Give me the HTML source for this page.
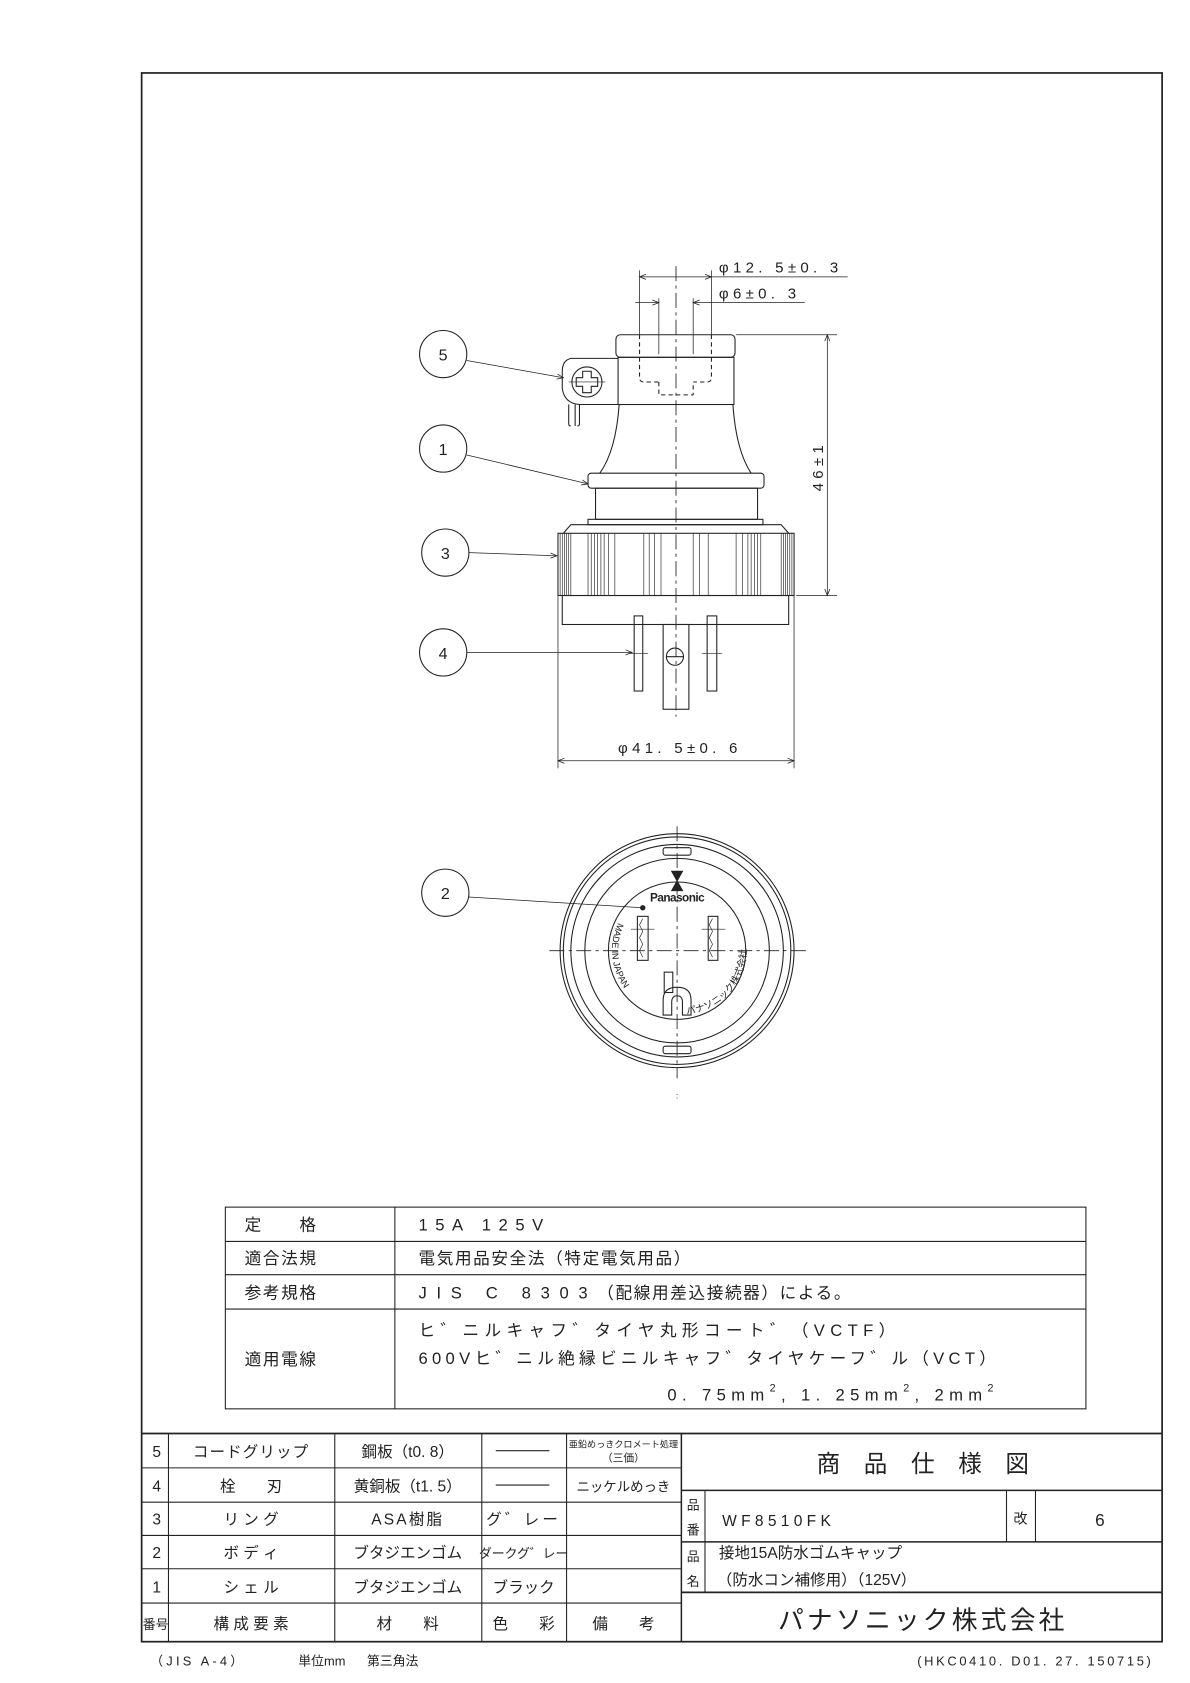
<!DOCTYPE html>
<html><head><meta charset="utf-8"><style>
html,body{margin:0;padding:0;background:#fff;}
svg{display:block;}
text{font-family:"Liberation Sans","Noto Sans CJK JP",sans-serif;fill:#222;}
</style></head><body>
<svg width="1190" height="1683" viewBox="0 0 1109 1568.5" preserveAspectRatio="none" xmlns="http://www.w3.org/2000/svg">
<defs>
<marker id="ar" viewBox="0 0 10 10" refX="10" refY="5" markerWidth="9" markerHeight="6" orient="auto-start-reverse" markerUnits="userSpaceOnUse"><path d="M0,1 L10,5 L0,9" fill="none" stroke="#222" stroke-width="1.2"/></marker>
<path id="arcL" d="M 576 860 A 60 60 0 0 0 610 942"/>
<path id="arcR" d="M 640 945 A 60 60 0 0 0 688 856"/>
</defs>
<g fill="none" stroke="#222" stroke-width="1">
<rect x="132" y="68" width="951" height="1462" stroke-width="1.6"/>

<line x1="630" y1="248" x2="630" y2="668" stroke-dasharray="14,4,3,4" stroke-width="0.8"/>
<rect x="574" y="312" width="111" height="21" rx="4"/>
<rect x="576" y="333" width="108" height="44"/>
<path d="M576 334 L532 334 Q524 336 524 346 L524 362 Q526 376 540 377 L576 377"/>
<circle cx="547" cy="356" r="14"/>
<path d="M543 346 h8 v6 h6 v8 h-6 v6 h-8 v-6 h-6 v-8 h6 z"/>
<line x1="530" y1="356" x2="564" y2="356" stroke-width="0.6"/>
<path d="M530 377 v18 q0 2 2 2 M536 377 v20 M540 377 v18 q0 2 -2 2"/>
<path d="M596 312 v40 q0 4 4 4 h14 M663 312 v40 q0 4 -4 4 h-13 M614 356 v12 h32 v-12" stroke-dasharray="4,3"/>
<path d="M577 377 Q574 420 559 441 M683 377 Q686 420 700 441"/>
<rect x="548" y="441" width="164" height="14" rx="3"/>
<rect x="555" y="455" width="151" height="29"/>
<rect x="548" y="484" width="163" height="5"/>
<path d="M525 497 L532 489 L728 489 L735 497"/>
<rect x="520" y="497" width="220" height="58"/>
<g stroke-width="0.6">
<path d="M522 497v58M524 497v58M526 497v58M528 497v58M530 497v58M532 497v58M734 497v58M736 497v58M738 497v58M732 497v58M730 497v58M728 497v58"/>
<path d="M548 497v58M551 497v58M554 497v58M557 497v58M560 497v58M563 497v58M567 497v58M573 497v58M600 497v58M605 497v58M610 497v58M616 497v58M646 497v58M652 497v58M660 497v58M686 497v58M692 497v58M697 497v58M700 497v58M703 497v58M706 497v58M709 497v58"/>
</g>
<rect x="524" y="555" width="211" height="27"/>
<rect x="591" y="574" width="8" height="70"/>
<rect x="659" y="574" width="9" height="70"/>
<rect x="618" y="582" width="24" height="79"/>
<circle cx="629" cy="612" r="8"/>
<line x1="621" y1="612" x2="637" y2="612"/>
<line x1="586" y1="609" x2="604" y2="609" stroke-width="0.6"/>
<line x1="654" y1="609" x2="673" y2="609" stroke-width="0.6"/>
<line x1="596" y1="252" x2="596" y2="312" stroke-width="0.7"/>
<line x1="663" y1="252" x2="663" y2="312" stroke-width="0.7"/>
<line x1="614" y1="278" x2="614" y2="330" stroke-width="0.7"/>
<line x1="646" y1="278" x2="646" y2="330" stroke-width="0.7"/>
<line x1="596" y1="258" x2="663" y2="258" stroke-width="0.7" marker-start="url(#ar)" marker-end="url(#ar)"/>
<line x1="663" y1="258" x2="790" y2="258" stroke-width="0.7"/>
<line x1="592" y1="282" x2="614" y2="282" stroke-width="0.7" marker-end="url(#ar)"/>
<line x1="646" y1="282" x2="750" y2="282" stroke-width="0.7" marker-start="url(#ar)"/>
<line x1="686" y1="312" x2="780" y2="312" stroke-width="0.7"/>
<line x1="742" y1="555" x2="780" y2="555" stroke-width="0.7"/>
<line x1="771" y1="312" x2="771" y2="555" stroke-width="0.7" marker-start="url(#ar)" marker-end="url(#ar)"/>
<line x1="520" y1="555" x2="520" y2="716" stroke-width="0.7"/>
<line x1="740" y1="555" x2="740" y2="716" stroke-width="0.7"/>
<line x1="520" y1="709" x2="740" y2="709" stroke-width="0.7" marker-start="url(#ar)" marker-end="url(#ar)"/>
<circle cx="413" cy="330" r="22"/><circle cx="413" cy="418" r="22"/><circle cx="415" cy="515" r="22"/><circle cx="413" cy="608" r="22"/><circle cx="415" cy="832" r="22"/>
<line x1="435" y1="336" x2="525" y2="352" stroke-width="0.7" marker-end="url(#ar)"/>
<line x1="435" y1="424" x2="548" y2="451" stroke-width="0.7" marker-end="url(#ar)"/>
<line x1="437" y1="515" x2="519" y2="518" stroke-width="0.7" marker-end="url(#ar)"/>
<line x1="435" y1="608" x2="589" y2="608" stroke-width="0.7" marker-end="url(#ar)"/>
<line x1="437" y1="836" x2="599" y2="846" stroke-width="0.7"/>
<circle cx="599" cy="846" r="2" fill="#222"/>
<circle cx="631" cy="886" r="109"/>
<circle cx="631" cy="886" r="106"/>
<circle cx="631" cy="886" r="99"/>
<circle cx="631" cy="886" r="86"/>
<circle cx="631" cy="886" r="64"/>
<rect x="618" y="790" width="26" height="7" rx="2"/>
<rect x="618" y="975" width="26" height="7" rx="2"/>
<line x1="512" y1="886" x2="752" y2="886" stroke-dasharray="14,4,3,4" stroke-width="0.8"/>
<line x1="631" y1="770" x2="631" y2="1005" stroke-dasharray="14,4,3,4" stroke-width="0.8"/>
<path d="M626 812 L636 812 L631 821 Z M626 830 L636 830 L631 821 Z" fill="#222"/>
<rect x="594" y="854" width="10" height="41"/>
<rect x="660" y="854" width="9" height="41"/>
<path d="M599 856 l-3 6 l3 6 l-3 6 l3 6 l-3 6 l3 6 M664 856 l-3 6 l3 6 l-3 6 l3 6 l-3 6 l3 6" stroke-width="0.6"/>
<line x1="588" y1="866" x2="610" y2="866" stroke-width="0.6"/>
<line x1="654" y1="866" x2="676" y2="866" stroke-width="0.6"/>
<rect x="619" y="906" width="8" height="19"/>
<path d="M618 946 V932 Q618 920 631 920 Q644 920 644 932 V946 H636 V934 Q636 928 631 928 Q626 928 626 934 V946 Z"/>
<rect x="210" y="1125" width="802" height="188"/>
<line x1="368" y1="1125" x2="368" y2="1313"/>
<line x1="210" y1="1157" x2="1012" y2="1157"/>
<line x1="210" y1="1188" x2="1012" y2="1188"/>
<line x1="210" y1="1220" x2="1012" y2="1220"/>
<line x1="132" y1="1336" x2="1083" y2="1336" stroke-width="1.6"/>
<line x1="132" y1="1368" x2="635" y2="1368"/>
<line x1="132" y1="1400" x2="635" y2="1400"/>
<line x1="132" y1="1431" x2="635" y2="1431"/>
<line x1="132" y1="1462" x2="635" y2="1462"/>
<line x1="132" y1="1494" x2="635" y2="1494"/>
<line x1="157" y1="1336" x2="157" y2="1530"/>
<line x1="312" y1="1336" x2="312" y2="1530"/>
<line x1="449" y1="1336" x2="449" y2="1530"/>
<line x1="528" y1="1336" x2="528" y2="1530"/>
<line x1="635" y1="1336" x2="635" y2="1530" stroke-width="1.4"/>
<line x1="635" y1="1389" x2="1083" y2="1389" stroke-width="1.4"/>
<line x1="635" y1="1437" x2="1083" y2="1437" stroke-width="1.4"/>
<line x1="635" y1="1484" x2="1083" y2="1484" stroke-width="1.6"/>
<line x1="657" y1="1389" x2="657" y2="1484"/>
<line x1="938" y1="1389" x2="938" y2="1437"/>
<line x1="965" y1="1389" x2="965" y2="1437"/>
<line x1="462" y1="1352" x2="512" y2="1352"/>
<line x1="462" y1="1384" x2="512" y2="1384"/>
</g>
<g font-size="15" text-anchor="middle">
<text x="413" y="336">5</text><text x="413" y="424">1</text><text x="415" y="521">3</text><text x="413" y="614">4</text><text x="415" y="838">2</text>
</g>
<g font-size="14" letter-spacing="4">
<text x="670" y="254">φ12. 5±0. 3</text>
<text x="670" y="278">φ6±0. 3</text>
<text x="576" y="702">φ41. 5±0. 6</text>
<text transform="translate(767,458) rotate(-90)">46±1</text>
</g>
<text x="631" y="840" font-size="11" font-weight="bold" text-anchor="middle" letter-spacing="-0.5">Panasonic</text>
<text font-size="8.5"><textPath href="#arcL">MADE IN JAPAN</textPath></text>
<text font-size="9"><textPath href="#arcR">パナソニック株式会社</textPath></text>
<text x="631" y="1024" font-size="8" text-anchor="middle">:</text>
<g font-size="15.5" letter-spacing="1.5">
<text x="228" y="1147">定　　格</text>
<text x="228" y="1178">適合法規</text>
<text x="228" y="1210">参考規格</text>
<text x="228" y="1272">適用電線</text>
<text x="390" y="1147" letter-spacing="7">15A 125V</text>
<text x="390" y="1178">電気用品安全法（特定電気用品）</text>
<text x="390" y="1210"><tspan letter-spacing="9">JIS C 8303</tspan>（配線用差込接続器）による。</text>
<text x="390" y="1245" letter-spacing="5">ヒ゛ニルキャフ゛タイヤ丸形コート゛（VCTF）</text>
<text x="390" y="1271" letter-spacing="4">600Vヒ゛ニル絶縁ビニルキャフ゛タイヤケーフ゛ル（VCT）</text>
<text x="622" y="1305" letter-spacing="5">0. 75mm<tspan font-size="10" dy="-8">2</tspan><tspan dy="8">, 1. 25mm</tspan><tspan font-size="10" dy="-8">2</tspan><tspan dy="8">, 2mm</tspan><tspan font-size="10" dy="-8">2</tspan></text>
</g>
<g font-size="14.5" text-anchor="middle">
<text x="146" y="1358">5</text><text x="146" y="1390">4</text><text x="146" y="1421">3</text><text x="146" y="1452">2</text><text x="146" y="1484">1</text>
<text x="145" y="1518" font-size="12">番号</text>
<text x="234" y="1358" letter-spacing="1">コードグリップ</text>
<text x="234" y="1390">栓　　刃</text>
<text x="234" y="1421">リ ン グ</text>
<text x="234" y="1452">ボ デ ィ</text>
<text x="234" y="1484">シ ェ ル</text>
<text x="234" y="1518">構 成 要 素</text>
<text x="380" y="1358">鋼板（t0. 8）</text>
<text x="380" y="1390">黄銅板（t1. 5）</text>
<text x="380" y="1421" letter-spacing="2">ASA樹脂</text>
<text x="380" y="1452">ブタジエンゴム</text>
<text x="380" y="1484">ブタジエンゴム</text>
<text x="380" y="1518">材　　料</text>
<text x="488" y="1421" letter-spacing="3">グ゛レー</text>
<text x="488" y="1452" font-size="12">ダークグ゛レー</text>
<text x="488" y="1484">ブラック</text>
<text x="488" y="1518">色　　彩</text>
<text x="581" y="1349" font-size="8.5">亜鉛めっきクロメート処理</text>
<text x="581" y="1362" font-size="10">（三価）</text>
<text x="581" y="1390" font-size="12.5">ニッケルめっき</text>
<text x="581" y="1518">備　　考</text>
<text x="860" y="1372" font-size="22">商　品　仕　様　図</text>
<text x="860" y="1518" font-size="24" letter-spacing="3">パナソニック株式会社</text>
<text x="646" y="1407" font-size="12">品</text><text x="646" y="1430" font-size="12">番</text>
<text x="646" y="1455" font-size="12">品</text><text x="646" y="1478" font-size="12">名</text>
<text x="951" y="1420" font-size="13">改</text>
<text x="1025" y="1422" font-size="16">6</text>
</g>
<g font-size="14.5">
<text x="673" y="1422" letter-spacing="4">WF8510FK</text>
<text x="670" y="1452">接地15A防水ゴムキャップ</text>
<text x="668" y="1477">（防水コン補修用）（125V）</text>
</g>
<g font-size="12">
<text x="140" y="1552" letter-spacing="3">（JIS A-4）</text>
<text x="278" y="1552">単位mm</text>
<text x="342" y="1552">第三角法</text>
<text x="1075" y="1552" text-anchor="end" letter-spacing="2.5">(HKC0410. D01. 27. 150715)</text>
</g>
</svg>
</body></html>
